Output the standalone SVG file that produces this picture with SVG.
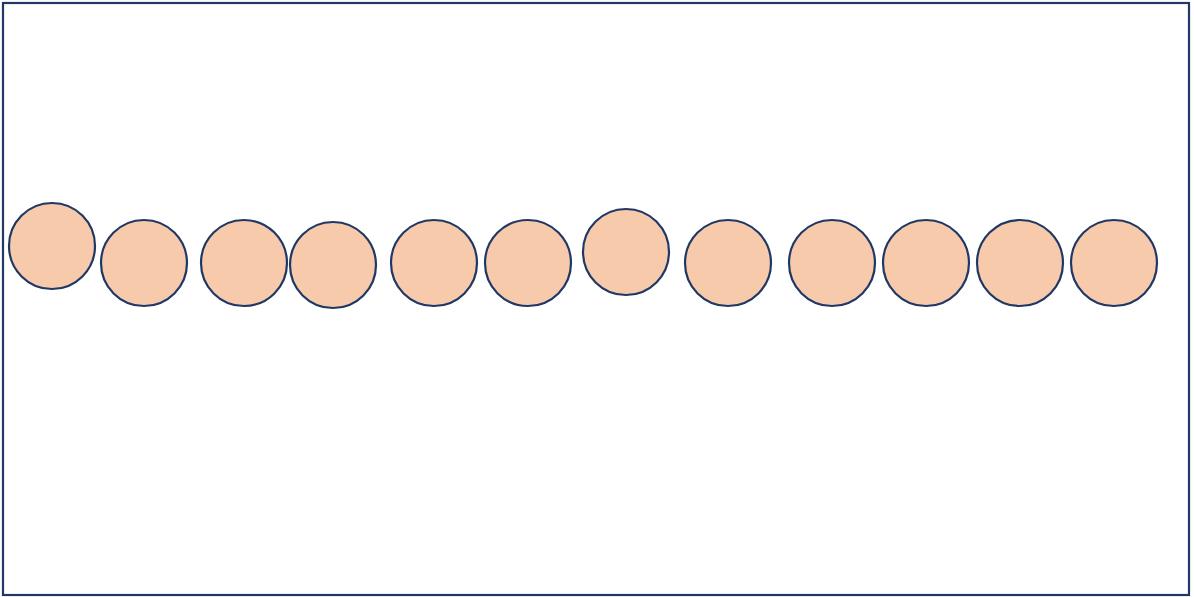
<svg xmlns="http://www.w3.org/2000/svg" width="1194" height="597" viewBox="0 0 1194 597">
<style>
.frame{fill:#ffffff;stroke:#203864;stroke-width:2.2}
.ball{fill:#F7CAAC;stroke:#203864;stroke-width:2.2}
</style>
<rect x="0" y="0" width="1194" height="597" fill="#ffffff"/>
<rect class="frame" x="3" y="3" width="1186" height="592"/>
<g id="ball1"><circle class="ball" cx="52" cy="246" r="43"/></g>
<g id="ball2"><circle class="ball" cx="144" cy="263" r="43"/></g>
<g id="ball3"><circle class="ball" cx="244" cy="263" r="43"/></g>
<g id="ball4"><circle class="ball" cx="333" cy="265" r="43"/></g>
<g id="ball5"><circle class="ball" cx="434" cy="263" r="43"/></g>
<g id="ball6"><circle class="ball" cx="528" cy="263" r="43"/></g>
<g id="ball7"><circle class="ball" cx="626" cy="252" r="43"/></g>
<g id="ball8"><circle class="ball" cx="728" cy="263" r="43"/></g>
<g id="ball9"><circle class="ball" cx="832" cy="263" r="43"/></g>
<g id="ball10"><circle class="ball" cx="926" cy="263" r="43"/></g>
<g id="ball11"><circle class="ball" cx="1020" cy="263" r="43"/></g>
<g id="ball12"><circle class="ball" cx="1114" cy="263" r="43"/></g>
<g id="connectors"></g>
</svg>
